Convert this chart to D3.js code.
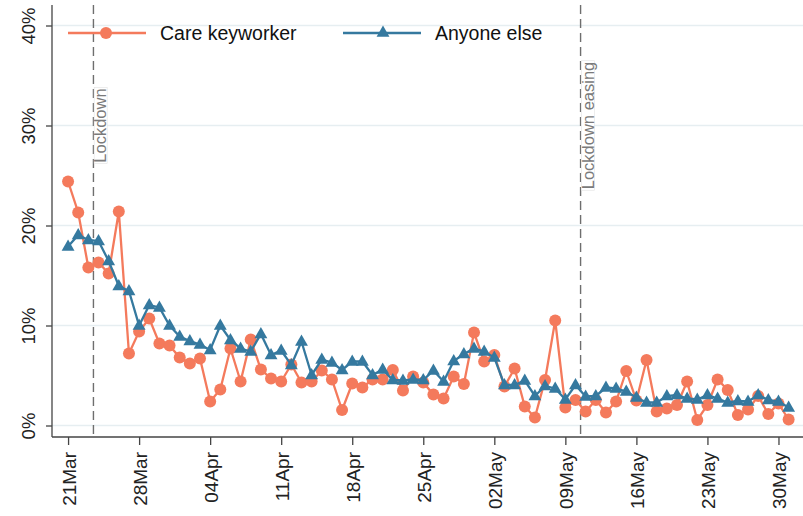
<!DOCTYPE html>
<html>
<head>
<meta charset="utf-8">
<script src="https://cdn.jsdelivr.net/npm/d3@7/dist/d3.min.js"></script>
<style>
  html, body { margin: 0; padding: 0; background: #fff; }
  svg { display: block; }
  text { font-family: "Liberation Sans", Arial, sans-serif; }
</style>
</head>
<body>
<svg id="chart" width="803" height="516"></svg>
<script>
// Daily dates, 21 March to 31 May 2020
const startDate = new Date(2020, 2, 21);
const endDate = new Date(2020, 4, 31);
const dates = d3.timeDay.range(startDate, d3.timeDay.offset(endDate, 1));

// Share of respondents (%) by group
const careKeyworker = [
  24.4, 21.3, 15.8, 16.3, 15.2, 21.4, 7.2, 9.4, 10.7, 8.2,
  8.0, 6.8, 6.2, 6.7, 2.4, 3.6, 7.7, 4.4, 8.6, 5.6,
  4.7, 4.4, 6.1, 4.3, 4.4, 5.5, 4.6, 1.55, 4.2, 3.8,
  4.6, 4.6, 5.55, 3.5, 4.9, 4.3, 3.1, 2.7, 4.9, 4.15,
  9.3, 6.4, 7.05, 3.9, 5.7, 1.9, 0.8, 4.55, 10.5, 1.8,
  2.55, 1.4, 2.55, 1.3, 2.4, 5.45, 2.5, 6.55, 1.4, 1.7,
  2.05, 4.4, 0.55, 2.05, 4.6, 3.55, 1.05, 1.6, 2.95, 1.15,
  2.2, 0.6
];
const anyoneElse = [
  17.9, 19.05, 18.55, 18.45, 16.45, 13.95, 13.45, 10.0, 12.05, 11.8,
  10.0, 8.9, 8.45, 8.1, 7.55, 10.0, 8.55, 7.7, 7.4, 9.15,
  7.05, 7.5, 6.05, 8.4, 5.05, 6.6, 6.3, 5.55, 6.4, 6.4,
  5.05, 5.6, 4.55, 4.5, 4.6, 4.55, 5.5, 4.4, 6.45, 7.15,
  7.7, 7.4, 6.8, 4.05, 4.05, 4.5, 2.95, 3.95, 3.7, 2.6,
  4.05, 2.9, 2.95, 3.8, 3.7, 3.4, 2.8, 2.3, 2.3, 2.95,
  3.05, 2.7, 2.6, 3.05, 2.7, 2.3, 2.45, 2.4, 3.05, 2.55,
  2.4, 1.8
];

const seriesNames = ["Care keyworker", "Anyone else"];
const yTicks = [0, 10, 20, 30, 40];
const xTicks = d3.timeDay.range(startDate, d3.timeDay.offset(endDate, 1), 7);

// Policy events (drawn at midday)
const events = [
  { label: "Lockdown", date: new Date(2020, 2, 23, 12) },
  { label: "Lockdown easing", date: new Date(2020, 4, 10, 12) }
];

const colors = { care: "#f47a5c", other: "#35799f" };

const svg = d3.select("#chart");
const plotLeft = 52, plotRight = 803, plotTop = 5, plotBottom = 437;

const x = d3.scaleTime()
  .domain([d3.timeHour.offset(startDate, -38), d3.timeHour.offset(startDate, 1738)])
  .range([plotLeft, plotRight]);
const y = d3.scaleLinear().domain([-1.15, 42.05]).range([plotBottom, plotTop]);

// Horizontal grid
svg.append("g").selectAll("line").data(yTicks).join("line")
  .attr("x1", plotLeft).attr("x2", plotRight)
  .attr("y1", d => y(d)).attr("y2", d => y(d))
  .attr("stroke", "#e6eef1").attr("stroke-width", 1.5);

// Event markers
const ev = svg.append("g");
events.forEach(e => {
  const ex = x(e.date);
  ev.append("line")
    .attr("x1", ex).attr("x2", ex).attr("y1", plotTop).attr("y2", plotBottom)
    .attr("stroke", "#6e6e6e").attr("stroke-width", 1.4)
    .attr("stroke-dasharray", "9,5");
  const t = ev.append("text")
    .attr("transform", `translate(${ex + 13},${y(30)}) rotate(-90)`)
    .attr("text-anchor", "middle")
    .attr("font-size", 16.5)
    .attr("fill", "#7a7a7a")
    .text(e.label);
  const bb = t.node().getBBox();
  ev.insert("rect", () => t.node())
    .attr("x", ex + 0.7).attr("width", 13)
    .attr("y", y(30) - bb.width / 2 - 1).attr("height", bb.width + 2)
    .attr("fill", "#fff").attr("stroke", "#e2e2e2").attr("stroke-width", 0.6);
});

// Axes
const yAxis = svg.append("g")
  .attr("transform", `translate(${plotLeft},0)`)
  .call(d3.axisLeft(y).tickValues(yTicks).tickSize(6).tickPadding(0).tickFormat(d => d + "%"));
yAxis.select(".domain").attr("d", `M0,${plotTop}V${plotBottom}`).attr("stroke", "#444").attr("stroke-width", 1.3);
yAxis.selectAll(".tick line").attr("stroke", "#444").attr("stroke-width", 1.3);
yAxis.selectAll(".tick text")
  .attr("x", null).attr("dy", null)
  .attr("transform", "translate(-17,0) rotate(-90)")
  .attr("text-anchor", "middle")
  .attr("font-size", 18.5).attr("fill", "#222")
  .style("font-family", '"Liberation Sans", Arial, sans-serif');

const xAxis = svg.append("g")
  .attr("transform", `translate(0,${plotBottom})`)
  .call(d3.axisBottom(x).tickValues(xTicks).tickSize(8).tickFormat(d3.timeFormat("%d%b")));
xAxis.select(".domain").attr("d", `M${plotLeft},0H${plotRight}`).attr("stroke", "#444").attr("stroke-width", 1.3);
xAxis.selectAll(".tick line").attr("stroke", "#444").attr("stroke-width", 1.3);
xAxis.selectAll(".tick text")
  .attr("y", null).attr("dy", null)
  .attr("transform", "translate(7,15) rotate(-90)")
  .attr("text-anchor", "end")
  .attr("font-size", 19).attr("fill", "#222")
  .style("font-family", '"Liberation Sans", Arial, sans-serif');

// Series
const careData = dates.map((d, i) => ({ date: d, v: careKeyworker[i] }));
const otherData = dates.map((d, i) => ({ date: d, v: anyoneElse[i] }));
const line = d3.line().x(d => x(d.date)).y(d => y(d.v));
const tri = d3.symbol().type(d3.symbolTriangle).size(72);

svg.append("path").datum(careData)
  .attr("d", line).attr("fill", "none")
  .attr("stroke", colors.care).attr("stroke-width", 2.3);
svg.append("g").selectAll("circle").data(careData).join("circle")
  .attr("cx", d => x(d.date)).attr("cy", d => y(d.v)).attr("r", 6)
  .attr("fill", colors.care);

svg.append("path").datum(otherData)
  .attr("d", line).attr("fill", "none")
  .attr("stroke", colors.other).attr("stroke-width", 2.3);
svg.append("g").selectAll("path").data(otherData).join("path")
  .attr("transform", d => `translate(${x(d.date)},${y(d.v) + 0.5})`)
  .attr("d", tri).attr("fill", colors.other);

// Legend
const lg = svg.append("g");
const legendItems = [
  { name: seriesNames[0], color: colors.care, x0: 68, shape: "circle" },
  { name: seriesNames[1], color: colors.other, x0: 343, shape: "triangle" }
];
legendItems.forEach(it => {
  lg.append("line").attr("x1", it.x0).attr("x2", it.x0 + 78)
    .attr("y1", 33).attr("y2", 33)
    .attr("stroke", it.color).attr("stroke-width", 2.3);
  if (it.shape === "circle") {
    lg.append("circle").attr("cx", it.x0 + 38).attr("cy", 33).attr("r", 6).attr("fill", it.color);
  } else {
    lg.append("path").attr("transform", `translate(${it.x0 + 40},33)`).attr("d", tri).attr("fill", it.color);
  }
  lg.append("text").attr("x", it.x0 + 92).attr("y", 39.5)
    .attr("font-size", 19.5).attr("fill", "#111").text(it.name);
});
</script>
</body>
</html>
